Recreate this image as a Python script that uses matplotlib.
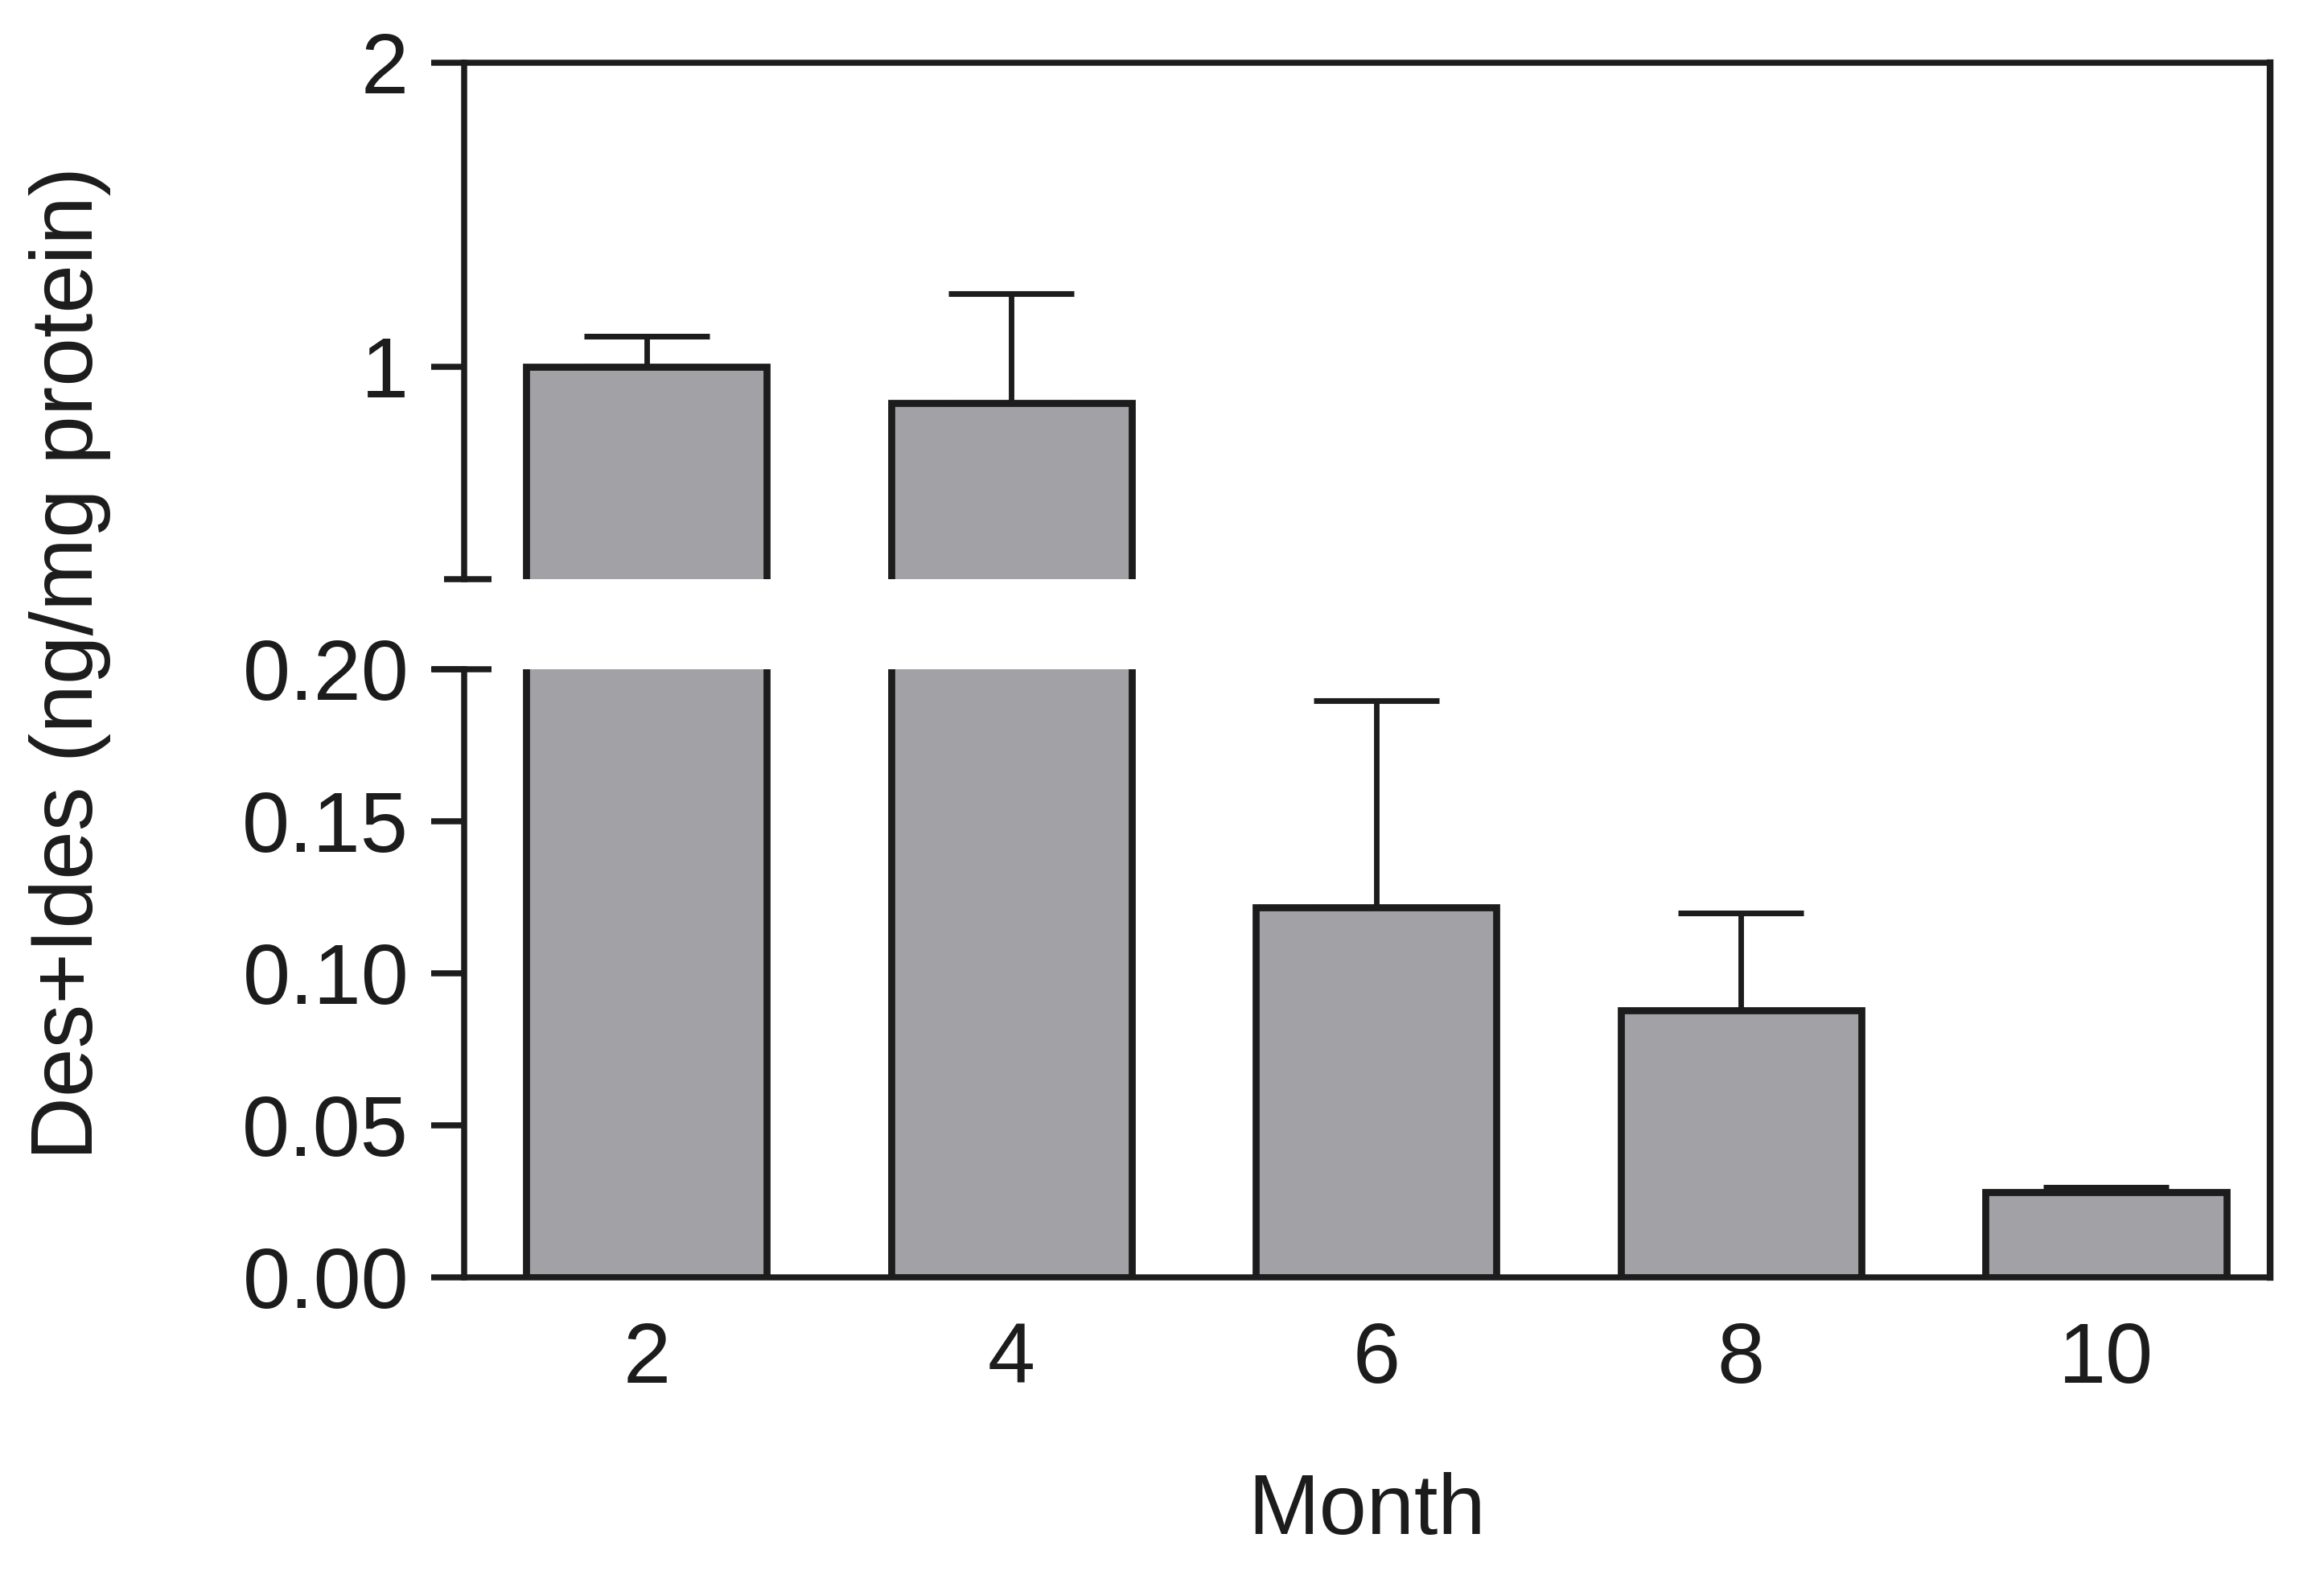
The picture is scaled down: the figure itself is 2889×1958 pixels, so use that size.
import matplotlib
matplotlib.use("Agg")
import matplotlib.pyplot as plt
import numpy as np

# values
months = [2, 4, 6, 8, 10]
means = [1.00, 0.879, 0.1216, 0.0878, 0.028]
sem = [0.10, 0.36, 0.068, 0.032, 0.0017]

upper_ticks = [1, 2]
lower_ticks = [0.00, 0.05, 0.10, 0.15, 0.20]

plt.rcParams["font.family"] = ["Liberation Sans", "DejaVu Sans"]

ink = "#1c1c1c"
bar_gray = "#a2a2a6"
lw = 1.8
fs = 25.5

fig = plt.figure(figsize=(9.63, 6.5267), dpi=300)

left, right = 0.1997, 0.9768
top, upper_bot = 0.9602, 0.6323
lower_top, bottom = 0.5751, 0.1890

ax_top = fig.add_axes([left, upper_bot, right - left, top - upper_bot])
ax_bot = fig.add_axes([left, bottom, right - left, lower_top - bottom])

# frame axes only to draw the continuous right border
frame = fig.add_axes([left, bottom, right - left, top - bottom], zorder=-1)
frame.set_facecolor("none")
frame.set_xticks([])
frame.set_yticks([])
for side in ["left", "top", "bottom"]:
    frame.spines[side].set_visible(False)
frame.spines["right"].set_linewidth(2.0)
frame.spines["right"].set_color(ink)

lower_err = np.zeros(len(sem))
for ax in (ax_top, ax_bot):
    ax.bar(months, means, width=1.32, color=bar_gray, edgecolor=ink,
           linewidth=2.1, zorder=2)
    ax.errorbar(months, means, yerr=[lower_err, sem], fmt="none",
                ecolor=ink, elinewidth=1.65, capsize=18.8, capthick=1.7,
                zorder=3)
    ax.set_xlim(1.0, 10.9)
    ax.set_facecolor("none")
    ax.spines["right"].set_visible(False)
    for side in ["left", "top", "bottom"]:
        ax.spines[side].set_linewidth(lw)
        ax.spines[side].set_color(ink)
    ax.tick_params(axis="y", length=9.8, width=lw, pad=6.7, labelsize=fs,
                   colors=ink)

# upper panel
ax_top.set_ylim(0.3, 2)
ax_top.set_yticks(upper_ticks)
ax_top.set_yticklabels([str(t) for t in upper_ticks])
ax_top.spines["bottom"].set_visible(False)
ax_top.set_xticks([])
ax_top.plot([-0.011, 0.015], [0, 0], transform=ax_top.transAxes,
            color=ink, lw=lw, clip_on=False, solid_capstyle="butt")

# lower panel
ax_bot.set_ylim(0, 0.2)
ax_bot.set_yticks(lower_ticks)
ax_bot.set_yticklabels([f"{t:.2f}" for t in lower_ticks])
ax_bot.spines["top"].set_visible(False)
ax_bot.set_xticks(months)
ax_bot.set_xticklabels([str(m) for m in months])
ax_bot.tick_params(axis="x", length=0, pad=13, labelsize=fs, colors=ink)
ax_bot.plot([-0.0178, 0.015], [1, 1], transform=ax_bot.transAxes,
            color=ink, lw=lw, clip_on=False, solid_capstyle="butt")

fig.text((left + right) / 2, 0.0262, "Month", ha="center", va="baseline",
         fontsize=fs, color=ink)
fig.text(0.0398, 0.5787, "Des+Ides (ng/mg protein)", rotation=90,
         rotation_mode="anchor", ha="center", va="baseline",
         fontsize=26.2, color=ink)

fig.savefig("out.png", dpi=300, facecolor="white")
